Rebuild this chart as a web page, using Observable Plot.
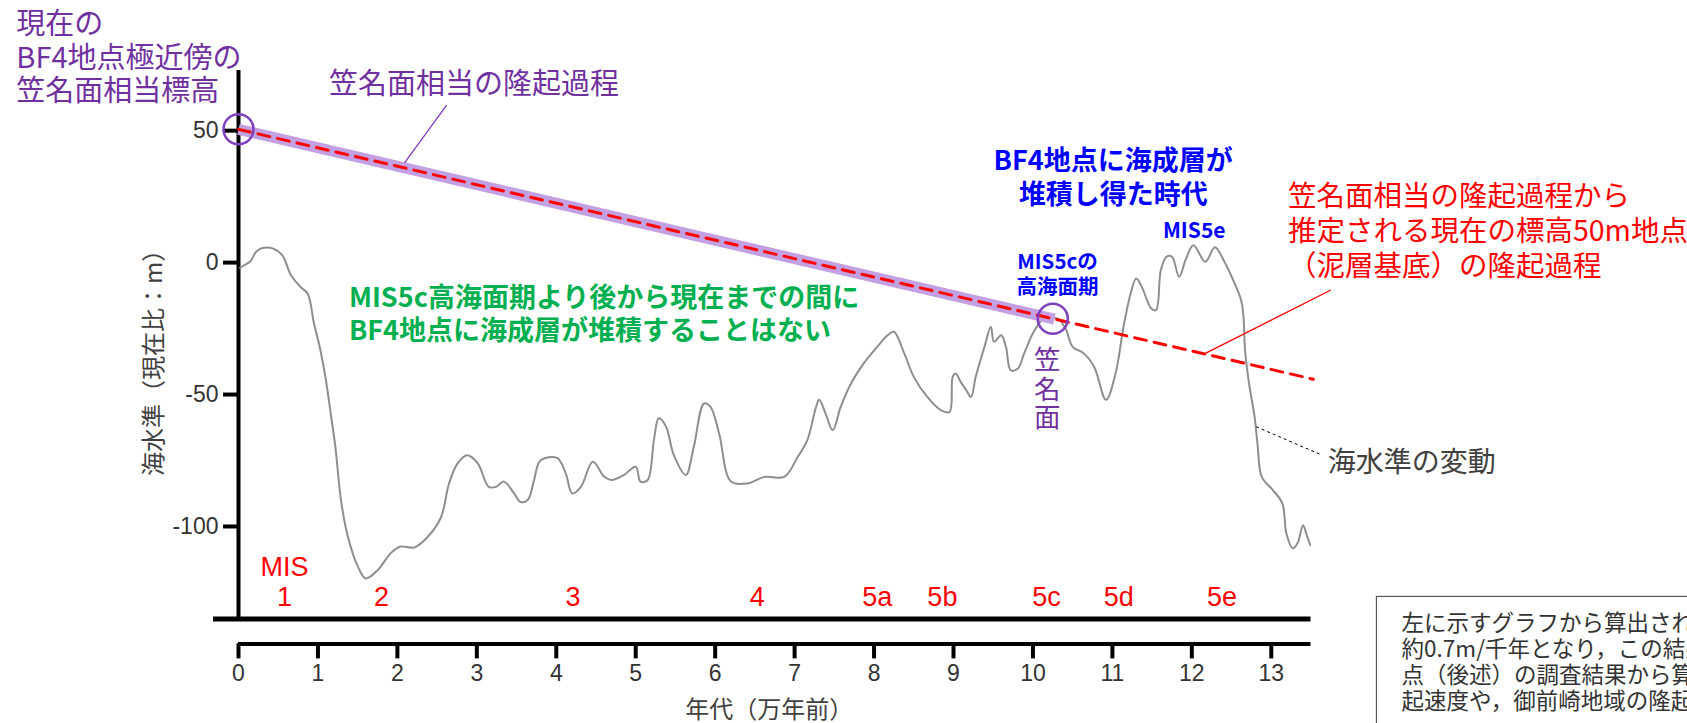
<!DOCTYPE html>
<html><head><meta charset="utf-8">
<script src="https://cdn.jsdelivr.net/npm/d3@7"></script>
<script src="https://cdn.jsdelivr.net/npm/@observablehq/plot@0.6"></script>
<style>html,body{margin:0;padding:0;background:#fff;overflow:hidden}</style>
</head><body><div id="chart"></div>
<script>
// ---- data (age in 10^4 years ago, level in m relative to present) ----
const ageTicks = [0,1,2,3,4,5,6,7,8,9,10,11,12,13];
const levelTicks = [50,0,-50,-100];

const seaAge = [0.02,0.07,0.15,0.22,0.3,0.43,0.55,0.66,0.78,0.87,0.95,1.03,1.1,1.16,1.22,1.29,1.37,1.5,1.6,1.75,1.92,2.04,2.21,2.38,2.55,2.65,2.76,2.88,3.01,3.15,3.24,3.34,3.47,3.55,3.64,3.72,3.8,4.01,4.12,4.2,4.31,4.46,4.6,4.69,4.85,5.0,5.06,5.15,5.23,5.29,5.38,5.48,5.63,5.73,5.86,5.94,6.05,6.2,6.41,6.62,6.87,7.04,7.16,7.27,7.31,7.39,7.48,7.58,7.71,7.87,8.04,8.17,8.25,8.38,8.5,8.67,8.84,8.95,8.99,9.03,9.09,9.16,9.22,9.28,9.39,9.47,9.51,9.6,9.66,9.72,9.81,9.89,10.01,10.14,10.31,10.41,10.5,10.64,10.77,10.92,11.04,11.14,11.23,11.3,11.37,11.49,11.55,11.61,11.68,11.75,11.84,11.92,12.02,12.17,12.29,12.41,12.53,12.62,12.65,12.67,12.72,12.79,12.83,12.88,13.02,13.14,13.19,13.27,13.33,13.4,13.44,13.49];
const seaLevel = [-2,-1,0.5,4,5.5,5.4,2.8,-4.7,-9.2,-11.7,-23,-33,-44.5,-57,-70,-90,-103,-115,-119.7,-116.6,-110,-107.6,-108,-104,-96.4,-83.7,-76,-73,-76,-85,-85,-83,-87.5,-90.7,-90,-82.5,-75,-74,-80,-87.5,-85,-75.5,-81,-82.4,-80.5,-77.4,-83,-82.4,-67,-59,-62,-73,-80.5,-70,-53.4,-54.6,-64.8,-83,-83.7,-81.2,-81.2,-73.6,-67.3,-54.7,-52,-57.2,-63.5,-54.7,-45.8,-38.2,-31.9,-27.5,-26.2,-34.4,-43.3,-50.9,-55.9,-56.6,-43.3,-42,-45.2,-48.3,-50.9,-43.3,-31.9,-24.3,-30,-27.5,-31.9,-40.8,-40.1,-34.4,-26.2,-21.2,-21.2,-25,-31.9,-34.4,-39.5,-52,-42,-24.3,-11.7,-6,-9.2,-17.4,-18,-2.8,2.2,2.2,-5.4,0.9,6.6,0.3,5.8,0.3,-7.3,-14.2,-20.5,-33.2,-45.8,-58.5,-69.8,-81.2,-86.2,-91.3,-102.7,-108.3,-106.4,-99.5,-102.7,-107];

const misNames = ["1","2","3","4","5a","5b","5c","5d","5e"];
const misAge = [0.58,1.80,4.21,6.53,8.04,8.86,10.17,11.08,12.38];

// uplift of the Kasana surface: start, end of band (MIS5c), end of projected line
const upliftAge = [0, 10.27, 13.53];
const upliftLevel = [50.5, -21.4, -44.2];
const circleAge = [0, 10.25];
const circleLevel = [50.5, -21.3];

// annotation anchors (data units)
const topLeftText = ["現在の","BF4地点極近傍の","笠名面相当標高"];
const topLeftLevel = [90.0, 77.3, 64.8];
const greenText = ["MIS5c高海面期より後から現在までの間に","BF4地点に海成層が堆積することはない"];
const greenLevel = [-13.6, -26.2];
const blueText = ["BF4地点に海成層が","堆積し得た時代"];
const blueLevel = [38.2, 25.6];
const mis5cText = ["MIS5cの","高海面期"];
const mis5cLevel = [-0.1, -9.4];
const redText = ["笠名面相当の隆起過程から","推定される現在の標高50m地点","（泥層基底）の隆起過程"];
const redLevel = [24.9, 11.7, -1.6];
const kasanaChars = ["笠","名","面"];
const kasanaLevel = [-37, -48.3, -59.1];
const boxText = ["左に示すグラフから算出される隆","約0.7m/千年となり，この結果","点（後述）の調査結果から算","起速度や，御前崎地域の隆起"];
const boxLevel = [-136.8, -146.6, -156.6, -166.4];

// leader lines [x1,y1,x2,y2]
const leaderPurple = [[2.62, 59.7, 2.09, 37.8]];
const leaderRed = [[13.75, -10.4, 12.17, -34.4]];
const leaderGray = [[12.81, -62.2, 13.64, -73]];

// ---- build ----
const JP = "'Noto Sans CJK JP','Noto Sans',sans-serif";
const NUM = "'Liberation Sans',Arial,sans-serif";
const sea = seaAge.map((a, i) => ({age: a, level: seaLevel[i]}));
const band = [0, 1].map(i => ({age: upliftAge[i], level: upliftLevel[i]}));
const projected = [0, 2].map(i => ({age: upliftAge[i], level: upliftLevel[i]}));
const circles = circleAge.map((a, i) => ({age: a, level: circleLevel[i]}));
const mkLines = (texts, levels, age) => texts.map((t, i) => ({t, age, level: levels[i]}));
const link = arr => arr.map(([x1, y1, x2, y2]) => ({x1, y1, x2, y2}));

const yTop = 72.8, yAxisLine = -144.5, frameBottom = -135.1;

const chart = Plot.plot({
  width: 1687, height: 723,
  marginLeft: 238, marginRight: 376.5, marginTop: 70, marginBottom: 79.6,
  x: {domain: [0, 13.5], axis: null},
  y: {domain: [yAxisLine, yTop], axis: null},
  style: {fontFamily: NUM, background: "#fff", overflow: "visible"},
  marks: [
    // note box at bottom right
    Plot.rect([{x1: 14.33, x2: 19, y1: -126.7, y2: -180}], {x1: "x1", x2: "x2", y1: "y1", y2: "y2", fill: "none", stroke: "#595959", strokeWidth: 1.2}),
    Plot.text(mkLines(boxText, boxLevel, 14.64), {x: "age", y: "level", text: "t", textAnchor: "start", fontSize: 22.5, fill: "#333", fontFamily: JP}),

    // axes
    Plot.ruleY([frameBottom], {strokeWidth: 5, insetLeft: -25, stroke: "#000"}),
    Plot.ruleY([yAxisLine], {strokeWidth: 4, stroke: "#000"}),
    Plot.ruleX([0], {y1: frameBottom, y2: yTop, strokeWidth: 4, stroke: "#000"}),
    Plot.axisY(levelTicks, {tickSize: 15, tickPadding: 5, strokeWidth: 4, fontSize: 23, fill: "#333", stroke: "#000", tickFormat: d => String(d), label: null}),
    Plot.axisX(ageTicks, {tickSize: 15, tickPadding: 6, strokeWidth: 4, fontSize: 23, fill: "#333", stroke: "#000", tickFormat: d => String(d), label: null}),
    Plot.text(["年代（万年前）"], {x: 6.68, y: -169.6, fontSize: 24, fill: "#404040", fontFamily: JP}),
    Plot.text(["海水準（現在比：m）"], {x: -1.06, y: -35.7, rotate: -90, fontSize: 24, fill: "#404040", fontFamily: JP}),

    // sea level curve
    Plot.line(sea, {x: "age", y: "level", stroke: "#8e8e8e", strokeWidth: 2, curve: "catmull-rom"}),

    // uplift process
    Plot.line(band, {x: "age", y: "level", stroke: "#c3a0e2", strokeWidth: 11, strokeLinecap: "butt"}),
    Plot.line(projected, {x: "age", y: "level", stroke: "#ff0000", strokeWidth: 3, strokeDasharray: "12,8"}),
    Plot.dot(circles, {x: "age", y: "level", r: 15, fill: "none", stroke: "#7f3fbf", strokeWidth: 2.5}),

    // leaders
    Plot.link(link(leaderPurple), {x1: "x1", y1: "y1", x2: "x2", y2: "y2", stroke: "#7f3fbf", strokeWidth: 1.3}),
    Plot.link(link(leaderRed), {x1: "x1", y1: "y1", x2: "x2", y2: "y2", stroke: "#ff0000", strokeWidth: 1.3}),
    Plot.link(link(leaderGray), {x1: "x1", y1: "y1", x2: "x2", y2: "y2", stroke: "#000", strokeWidth: 1, strokeDasharray: "3,3"}),

    // MIS labels
    Plot.text(["MIS"], {x: 0.58, y: -115.5, fontSize: 27, fill: "#ff0000"}),
    Plot.text(misNames, {x: (d, i) => misAge[i], y: -126.7, fontSize: 27, fill: "#ff0000"}),

    // annotations
    Plot.text(mkLines(topLeftText, topLeftLevel, -2.796), {x: "age", y: "level", text: "t", textAnchor: "start", fontSize: 29, fill: "#7030a0", fontFamily: JP}),
    Plot.text(["笠名面相当の隆起過程"], {x: 1.14, y: 67.3, textAnchor: "start", fontSize: 29, fill: "#7030a0", fontFamily: JP}),
    Plot.text(mkLines(greenText, greenLevel, 1.39), {x: "age", y: "level", text: "t", textAnchor: "start", fontSize: 27, fontWeight: "bold", fill: "#00b050", fontFamily: JP}),
    Plot.text(mkLines(blueText, blueLevel, 11.01), {x: "age", y: "level", text: "t", fontSize: 27, fontWeight: "bold", fill: "#0000ff", fontFamily: JP}),
    Plot.text(mkLines(mis5cText, mis5cLevel, 10.31), {x: "age", y: "level", text: "t", fontSize: 20.5, fontWeight: "bold", fill: "#0000ff", fontFamily: JP}),
    Plot.text(["MIS5e"], {x: 12.03, y: 11.7, fontSize: 21, fontWeight: "bold", fill: "#0000ff", fontFamily: JP}),
    Plot.text(mkLines(kasanaChars, kasanaLevel, 10.18), {x: "age", y: "level", text: "t", fontSize: 26.5, fill: "#7030a0", fontFamily: JP}),
    Plot.text(mkLines(redText, redLevel, 13.21), {x: "age", y: "level", text: "t", textAnchor: "start", fontSize: 28.5, fill: "#ff0000", fontFamily: JP}),
    Plot.text(["海水準の変動"], {x: 13.71, y: -76.1, textAnchor: "start", fontSize: 28, fill: "#404040", fontFamily: JP})
  ]
});
document.getElementById("chart").appendChild(chart);
</script>
</body></html>
